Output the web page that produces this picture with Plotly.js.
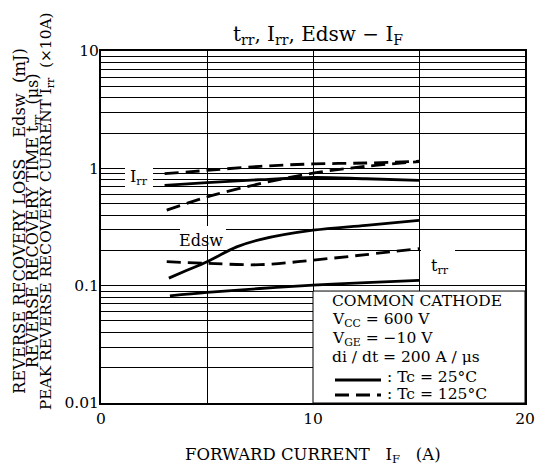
<!DOCTYPE html>
<html>
<head>
<meta charset="utf-8">
<script src="https://cdn.plot.ly/plotly-3.0.1.min.js"></script>
<style>html,body{margin:0;padding:0;background:#fff;}#chart{width:537px;height:470px;}</style>
</head>
<body>
<div id="chart"></div>
<script>
// ---- data ----
const xIrr25 = [3.0, 5, 7.5, 10, 12.5, 15];
const yIrr25 = [0.715, 0.755, 0.80, 0.835, 0.815, 0.79];
const xIrr125 = [3.0, 5, 7.5, 10, 12.5, 15];
const yIrr125 = [0.90, 0.96, 1.04, 1.09, 1.11, 1.15];
const xEdsw25 = [3.2, 4, 5, 6.4, 7.5, 10, 12.5, 15];
const yEdsw25 = [0.116, 0.134, 0.160, 0.214, 0.247, 0.297, 0.327, 0.360];
const xEdsw125 = [3.1, 5, 7.5, 10, 12.5, 15];
const yEdsw125 = [0.44, 0.57, 0.74, 0.91, 1.04, 1.14];
const xTrr25 = [3.25, 5, 7.5, 10, 12.5, 15];
const yTrr25 = [0.0818, 0.0875, 0.0946, 0.101, 0.106, 0.111];
const xTrr125 = [3.1, 5, 7.5, 10, 12.5, 15];
const yTrr125 = [0.160, 0.155, 0.151, 0.165, 0.184, 0.207];

const xTickVals = [0, 5, 10, 15, 20];
const xTickText = ['0', '', '10', '', '20'];
const yDecades = [0.01, 0.1, 1, 10];
const yDecadeText = ['0.01', '0.1', '1', '10'];

// build log grid (1..9 per decade), labels only on decades
const yTickVals = [], yTickText = [];
for (let i = 0; i < yDecades.length - 1; i++) {
  for (let m = 1; m <= 9; m++) {
    yTickVals.push(+(yDecades[i] * m).toPrecision(3));
    yTickText.push(m === 1 ? yDecadeText[i] : '');
  }
}
yTickVals.push(yDecades[yDecades.length - 1]);
yTickText.push(yDecadeText[yDecadeText.length - 1]);

const FONT = 'DejaVu Serif';
const DASH = '14px,7px';
const solid = {color: '#000', width: 2.8, shape: 'spline'};
const dashed = {color: '#000', width: 2.8, dash: DASH, shape: 'spline'};

const traces = [
  {x: xIrr25, y: yIrr25, mode: 'lines', line: solid, name: 'Irr 25'},
  {x: xIrr125, y: yIrr125, mode: 'lines', line: dashed, name: 'Irr 125'},
  {x: xEdsw25, y: yEdsw25, mode: 'lines', line: solid, name: 'Edsw 25'},
  {x: xEdsw125, y: yEdsw125, mode: 'lines', line: dashed, name: 'Edsw 125'},
  {x: xTrr25, y: yTrr25, mode: 'lines', line: solid, name: 'trr 25'},
  {x: xTrr125, y: yTrr125, mode: 'lines', line: dashed, name: 'trr 125'}
];

// pixel helpers for decoration placement (plot area 101..525 x 51..403)
const L = 101, T = 51, W = 424, H = 352;
const px = v => (v - L) / W;
const py = v => 1 - (v - T) / H;

const whiteBox = (x0, x1, y0, y1) => ({type: 'rect', xref: 'paper', yref: 'paper',
  x0: px(x0), x1: px(x1), y0: py(y1), y1: py(y0), fillcolor: '#fff', line: {width: 0}, layer: 'above'});

const shapes = [
  whiteBox(125, 153, 163, 190),   // behind Irr label
  whiteBox(180, 226, 226, 235),   // behind Edsw label
  whiteBox(421, 455, 246, 255),   // behind trr label
  {type: 'rect', xref: 'x', yref: 'paper', x0: 10, x1: 20, y0: 0, y1: (Math.log10(0.09) + 2) / 3,
   fillcolor: '#fff', line: {color: '#000', width: 1}, layer: 'above'},
  {type: 'line', xref: 'paper', yref: 'paper', x0: px(335), x1: px(381), y0: py(380), y1: py(380),
   line: {color: '#000', width: 2.8}, layer: 'above'},
  {type: 'line', xref: 'paper', yref: 'paper', x0: px(335), x1: px(381), y0: py(395), y1: py(395),
   line: {color: '#000', width: 2.8, dash: DASH}, layer: 'above'}
];

const ann = (text, x, y, opts) => Object.assign({text, xref: 'paper', yref: 'paper', x: px(x), y: py(y),
  showarrow: false, xanchor: 'center', yanchor: 'middle', font: {family: FONT, size: 15, color: '#000'}}, opts || {});
const NB = '\u00A0';
const sp = n => NB.repeat(n);
const f = s => ({family: FONT, size: s, color: '#000'});

const annotations = [
  ann('I<sub>rr</sub>', 139, 177, {font: f(16)}),
  ann('Edsw', 201, 240, {font: f(16)}),
  ann('t<sub>rr</sub>', 440, 266, {font: f(16)}),
  ann('COMMON' + NB + 'CATHODE', 330, 301, {xanchor: 'left', font: f(15.5)}),
  ann('V<sub>CC</sub> = 600 V', 330, 320, {xanchor: 'left', font: f(15.5)}),
  ann('V<sub>GE</sub> = \u221210 V', 330, 339, {xanchor: 'left', font: f(15.5)}),
  ann('di / dt = 200 A / \u03bcs', 330, 357, {xanchor: 'left', font: f(15.5)}),
  ann(': Tc = 25\u00b0C', 385, 377, {xanchor: 'left', font: f(15.5)}),
  ann(': Tc = 125\u00b0C', 385, 394, {xanchor: 'left', font: f(15.5)}),
  ann('FORWARD' + NB + 'CURRENT' + sp(3) + 'I<sub>F</sub>' + sp(3) + '(A)', 313, 455, {font: f(16.5)}),
  ann('REVERSE RECOVERY LOSS' + sp(4) + 'Edsw' + sp(2) + '(mJ)', 19, 221, {textangle: -90, font: f(16.3)}),
  ann('REVERSE RECOVERY TIME' + sp(1) + 't<sub>rr</sub>' + sp(2) + '(\u03bcs)', 33, 221, {textangle: -90, font: f(16)}),
  ann('PEAK REVERSE RECOVERY CURRENT' + sp(1) + 'I<sub>rr</sub>' + sp(2) + '(\u00d710A)', 47, 211, {textangle: -90, font: f(15.4)})
];

const layout = {
  width: 537, height: 470,
  margin: {l: L, r: 537 - L - W, t: T, b: 470 - T - H},
  paper_bgcolor: '#fff', plot_bgcolor: '#fff',
  showlegend: false,
  font: {family: FONT, size: 15, color: '#000'},
  title: {text: 't<sub>rr</sub>, I<sub>rr</sub>, Edsw \u2212 I<sub>F</sub>', x: 318 / 537, xanchor: 'center',
          y: 1 - 34 / 470, yanchor: 'middle', font: f(20)},
  xaxis: {range: [0, 20], tickmode: 'array', tickvals: xTickVals, ticktext: xTickText,
          showgrid: true, gridcolor: '#000', gridwidth: 1, zeroline: false,
          showline: true, linecolor: '#000', linewidth: 2, mirror: true, ticks: '',
          tickfont: f(15.5)},
  yaxis: {type: 'log', range: [-2, 1], tickmode: 'array', tickvals: yTickVals, ticktext: yTickText,
          showgrid: true, gridcolor: '#000', gridwidth: 1, zeroline: false,
          showline: true, linecolor: '#000', linewidth: 2, mirror: true, ticks: '',
          ticklabelstandoff: -3, tickfont: f(15.5)},
  shapes: shapes,
  annotations: annotations
};

Plotly.newPlot('chart', traces, layout, {displayModeBar: false, staticPlot: true});
</script>
</body>
</html>
